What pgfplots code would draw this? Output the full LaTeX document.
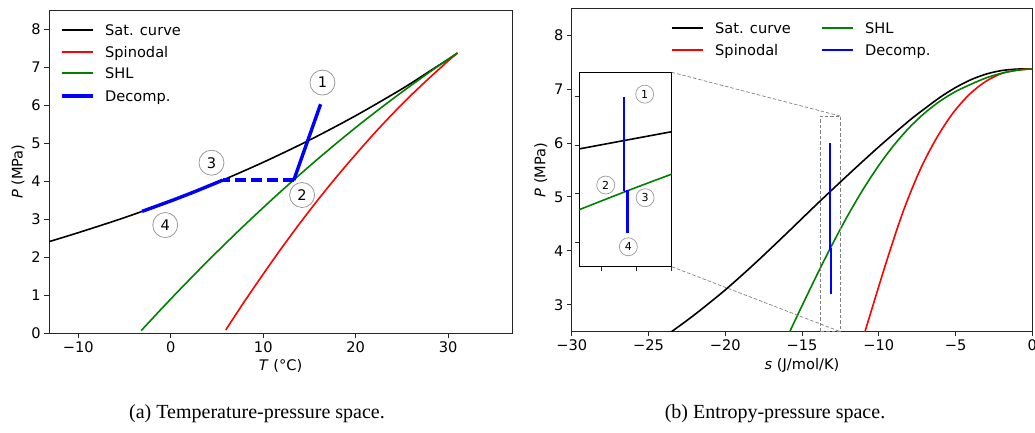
\documentclass[border=0pt]{standalone}
\usepackage{fontspec}
\setmainfont{DejaVu Sans}
\newfontfamily\capfont{Liberation Serif}
\usepackage{pgfplots}
\usepackage{pgfplotstable}
\pgfplotsset{compat=1.18}
\definecolor{mplgreen}{HTML}{008000}
\definecolor{mplred}{HTML}{FF0000}
\definecolor{circgray}{HTML}{9A9A9A}

% ---------- T-P space ----------
\pgfplotstableread{
T P
-14.0 2.357
-13.2 2.41
-10 2.649
-5 3.046
0 3.485
5 3.969
10 4.502
15 5.086
20 5.729
25 6.434
28 6.900
30 7.214
31 7.377
}\satTP
\pgfplotstableread{
T P
5.95 0.09
8 0.85
10 1.56
12 2.25
14 2.91
16 3.54
18 4.14
20 4.71
22 5.26
24 5.78
26 6.27
28 6.73
30 7.17
31 7.377
}\spiTP
\pgfplotstableread{
T P
-3.2 0.07
0 0.904
4 1.903
8 2.853
12 3.756
16 4.610
20 5.417
24 6.170
28 6.878
31 7.377
}\shlTP

% ---------- s-P space ----------
\pgfplotstableread{
s P
-24.2 2.36
-23.5 2.50
-22 2.815
-20 3.275
-18 3.785
-16 4.325
-14 4.875
-12 5.41
-10 5.93
-8 6.42
-7 6.64
-6 6.85
-5 7.03
-4 7.175
-3 7.28
-2 7.345
-1 7.372
0 7.377
}\satSP
\pgfplotstableread{
s P
-11.05 2.36
-10.9 2.50
-9.5 3.80
-8.4 4.74
-7.3 5.51
-6.24 6.09
-5.16 6.56
-4.07 6.91
-3 7.15
-1.9 7.30
-0.8 7.36
0 7.377
}\spiSP
\pgfplotstableread{
s P
-16 2.38
-15.8 2.50
-15 2.98
-14 3.57
-13 4.135
-12 4.665
-11 5.15
-10 5.585
-9 5.965
-8 6.29
-7 6.56
-6 6.78
-5 6.955
-4 7.09
-3 7.21
-2 7.295
-1 7.35
0 7.377
}\shlSP

\newcommand{\mplfont}{\fontsize{14.6}{17}\selectfont}
% legend entry: line from x to x+31.6pt at height y, text 43.3pt right of x
\newcommand{\legitem}[4]{% #1 style, #2 x, #3 y, #4 text
  \draw[#1] (#2pt,#3pt) -- ++(31.6pt,0pt);
  \node[anchor=base west, inner sep=0pt, font=\mplfont] at ([xshift=43.3pt,yshift=-5.35pt]#2pt,#3pt) {#4};}
\pgfplotsset{
  mpl/.style={
    scale only axis, anchor=south west,
    axis line style={black!85, line width=0.9pt},
    tick align=outside, xtick pos=bottom, ytick pos=left,
    major tick length=4.8pt,
    tick style={black!85, line width=0.9pt},
    tick label style={font=\mplfont},
    label style={font=\mplfont},
    /pgf/number format/assume math mode=true,
  },
}
\tikzset{
  circ/.style={circle, draw=circgray, fill=white, line width=0.8pt, minimum size=25pt, inner sep=0pt, font=\mplfont},
  scirc/.style={circle, draw=circgray, fill=white, line width=0.7pt, minimum size=18pt, inner sep=0pt, font=\fontsize{11}{12}\selectfont},
}

\begin{document}
\begin{tikzpicture}
\path[use as bounding box] (0pt,0pt) rectangle (1035pt,433pt);

% ================= (a) =================
\begin{axis}[mpl, at={(49pt,99.7pt)}, width=463pt, height=323.3pt,
  xmin=-13.17, xmax=36.9, ymin=0, ymax=8.51,
  xtick={-10,0,10,20,30}, xticklabels={−10,0,10,20,30},
  ytick={0,1,2,3,4,5,6,7,8},
  xlabel={\textit{T} (°C)}, ylabel={\textit{P} (MPa)},
]
\addplot[black, line width=1.6pt, smooth] table[x=T,y=P] {\satTP};
\addplot[mplred, line width=1.6pt, smooth] table[x=T,y=P] {\spiTP};
\addplot[mplgreen, line width=1.6pt, smooth] table[x=T,y=P] {\shlTP};
\addplot[blue, line width=3.4pt] coordinates {(16.2,6.03) (13.3,4.03)};
\addplot[blue, line width=3.4pt, dash pattern=on 11pt off 5pt] coordinates {(13.3,4.03) (5.6,4.03)};
\addplot[blue, line width=3.4pt, smooth] coordinates {(5.6,4.03) (5,3.969) (2.5,3.72) (0,3.485) (-3.1,3.21)};
\node[circ] at (axis cs:16.4,6.6) {1};
\node[circ] at (axis cs:14.2,3.64) {2};
\node[circ] at (axis cs:4.4,4.49) {3};
\node[circ] at (axis cs:-0.6,2.85) {4};
\end{axis}
% legend (a)
\legitem{black, line width=1.6pt}{61.7}{403}{Sat. curve}
\legitem{mplred, line width=1.8pt}{61.7}{381}{Spinodal}
\legitem{mplgreen, line width=1.6pt}{61.7}{359.7}{SHL}
\legitem{blue, line width=3.4pt}{61.7}{337}{Decomp.}

% ================= (b) =================
\begin{axis}[mpl, at={(571.7pt,101.3pt)}, width=460.6pt, height=323.4pt,
  xmin=-30, xmax=0, ymin=2.5, ymax=8.5,
  xtick={-30,-25,-20,-15,-10,-5,0}, xticklabels={−30,−25,−20,−15,−10,−5,0},
  ytick={3,4,5,6,7,8},
  xlabel={\textit{s} (J/mol/K)}, ylabel={\textit{P} (MPa)},
]
\addplot[black, line width=1.6pt, smooth] table[x=s,y=P] {\satSP};
\addplot[mplred, line width=1.6pt, smooth] table[x=s,y=P] {\spiSP};
\addplot[mplgreen, line width=1.6pt, smooth] table[x=s,y=P] {\shlSP};
\addplot[blue, line width=2pt] coordinates {(-13.186,6.0) (-13.186,4.03) (-13.134,4.03) (-13.134,3.2)};
\draw[black!50, line width=0.7pt, dash pattern=on 3.5pt off 2pt] (axis cs:-13.82,2.5) rectangle (axis cs:-12.5,6.5);
\coordinate (rtr) at (axis cs:-12.5,6.5);
\coordinate (rbr) at (axis cs:-12.5,2.5);
\end{axis}
% legend (b)
\legitem{black, line width=1.6pt}{671.7}{404.7}{Sat. curve}
\legitem{mplred, line width=1.6pt}{671.7}{383}{Spinodal}
\legitem{mplgreen, line width=1.6pt}{821.7}{404.7}{SHL}
\legitem{blue, line width=2pt}{821.7}{383}{Decomp.}

% ---- inset ----
\begin{axis}[mpl, at={(579.3pt,166.3pt)}, width=92.4pt, height=194.4pt,
  xmin=-13.82, xmax=-12.5, ymin=2.5, ymax=6.5,
  xtick={-13.5,-13,-12.5}, ytick={3,4,5,6},
  xticklabels={}, yticklabels={},
  axis line style={black, line width=0.9pt},
  axis background/.style={fill=white},
]
\addplot[black, line width=1.6pt, smooth] table[x=s,y=P] {\satSP};
\addplot[mplgreen, line width=1.6pt, smooth] table[x=s,y=P] {\shlSP};
\addplot[blue, line width=2pt] coordinates {(-13.186,6.0) (-13.186,4.05)};
\addplot[blue, line width=1.6pt] coordinates {(-13.186,4.05) (-13.134,4.05)};
\addplot[blue, line width=3.4pt] coordinates {(-13.134,4.08) (-13.134,3.2)};
\node[scirc] at (axis cs:-12.886,6.05) {1};
\node[scirc] at (axis cs:-13.443,4.18) {2};
\node[scirc] at (axis cs:-12.88,3.92) {3};
\node[scirc] at (axis cs:-13.12,2.91) {4};
\coordinate (itr) at (rel axis cs:1,1);
\coordinate (ibr) at (rel axis cs:1,0);
\end{axis}
\draw[black!50, line width=0.7pt, dash pattern=on 3.5pt off 2pt] (itr) -- (rtr);
\draw[black!50, line width=0.7pt, dash pattern=on 3.5pt off 2pt] (ibr) -- (rbr);

% captions
\node[font=\capfont\fontsize{20}{24}\selectfont, anchor=base] at (257pt,14.5pt) {(a) Temperature-pressure space.};
\node[font=\capfont\fontsize{20}{24}\selectfont, anchor=base] at (775pt,14.5pt) {(b) Entropy-pressure space.};
\end{tikzpicture}
\end{document}
